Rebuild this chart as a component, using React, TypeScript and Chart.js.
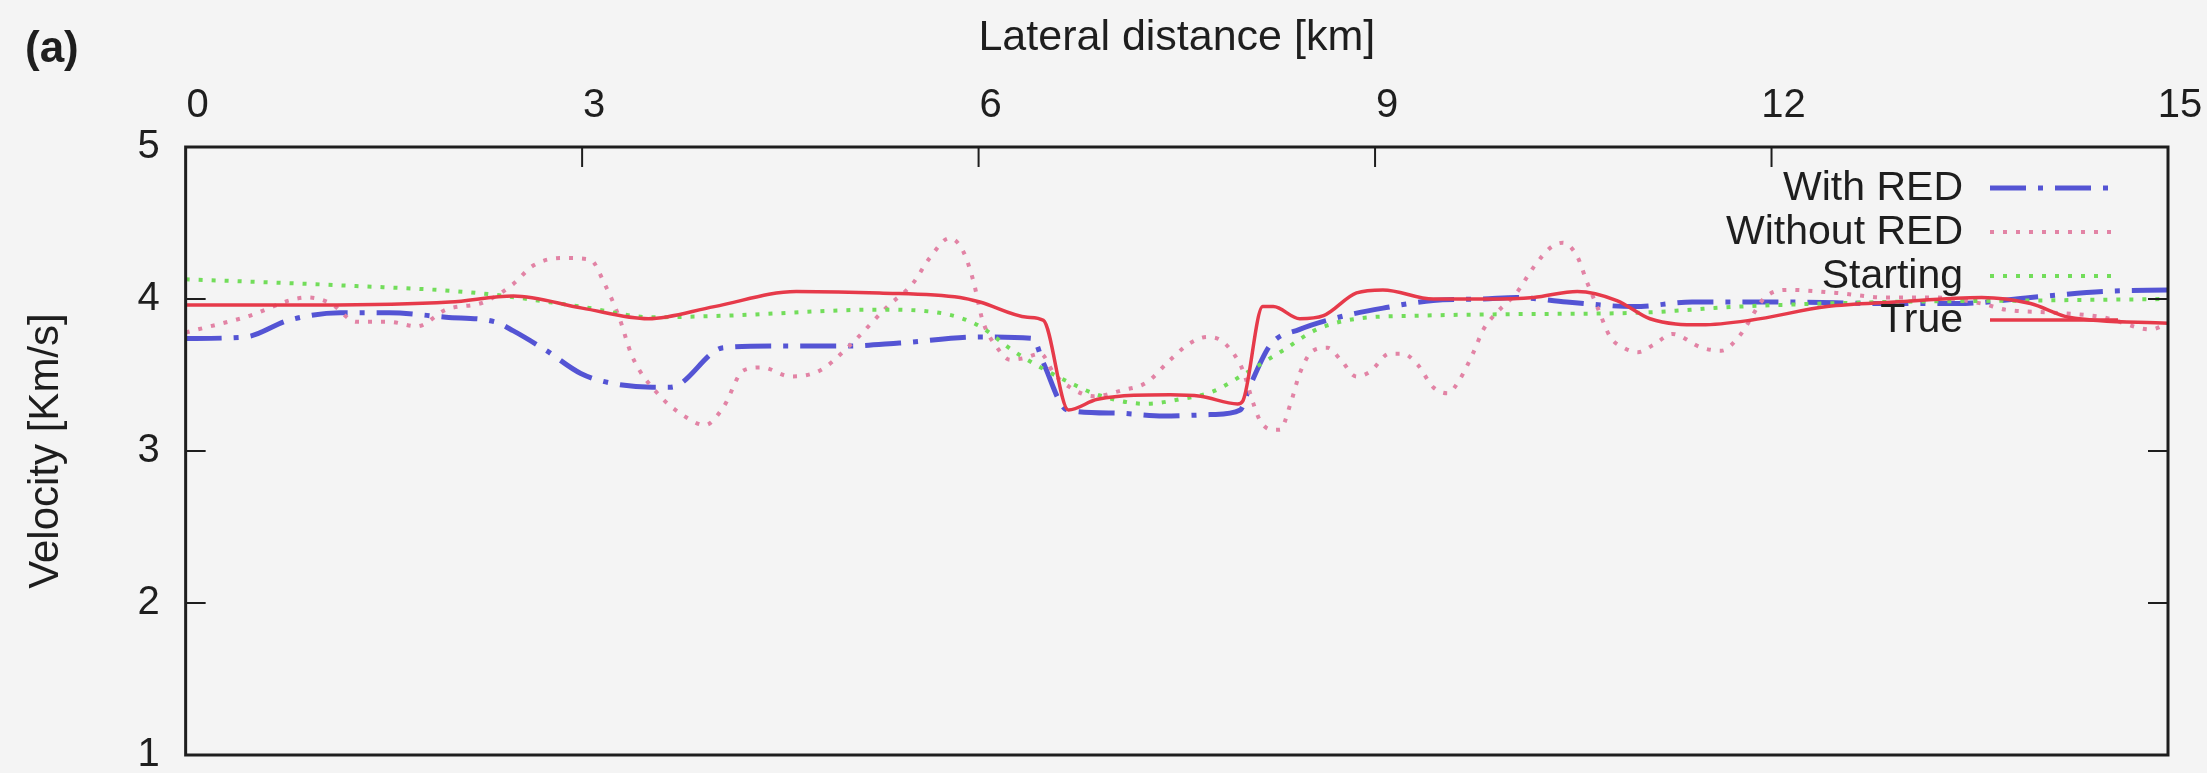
import React, { useEffect, useRef } from 'react';
import { Chart, registerables } from 'chart.js';

Chart.register(...registerables);

// ---------- data ----------
const X_TICKS = [0, 3, 6, 9, 12, 15];
const Y_TICKS = [1, 2, 3, 4, 5];
const SERIES_NAMES = ['With RED', 'Without RED', 'Starting', 'True'];
const X_TITLE = 'Lateral distance [km]';
const Y_TITLE = 'Velocity [Km/s]';
const PANEL_LABEL = '(a)';

const WITH_RED_X = [0, 0.45, 0.78, 1.17, 1.54, 1.97, 2.34, 2.48, 2.73, 2.99, 3.2, 3.53, 3.67, 4.07, 4.44, 4.98, 5.4, 6.01, 6.41, 6.49, 6.67, 7.02, 7.4, 7.77, 7.98, 8.05, 8.21, 8.43, 8.68, 9.06, 9.44, 9.82, 10.07, 10.45, 10.96, 11.4, 12.13, 12.86, 13.41, 13.96, 14.51, 15];
const WITH_RED_Y = [3.74, 3.75, 3.86, 3.91, 3.91, 3.88, 3.85, 3.79, 3.66, 3.51, 3.45, 3.42, 3.42, 3.68, 3.69, 3.69, 3.71, 3.75, 3.74, 3.58, 3.27, 3.25, 3.23, 3.24, 3.27, 3.42, 3.70, 3.80, 3.87, 3.94, 3.99, 4.0, 4.01, 3.98, 3.95, 3.98, 3.98, 3.97, 3.97, 4.01, 4.05, 4.06];

const WITHOUT_RED_X = [0, 0.45, 0.92, 1.1, 1.29, 1.54, 1.75, 1.97, 2.26, 2.48, 2.63, 2.84, 3.06, 3.17, 3.28, 3.38, 3.57, 3.79, 3.93, 4.07, 4.22, 4.36, 4.58, 4.8, 5.02, 5.31, 5.5, 5.63, 5.78, 5.88, 5.96, 6.03, 6.14, 6.24, 6.34, 6.47, 6.57, 6.69, 6.87, 7.09, 7.27, 7.45, 7.6, 7.73, 7.83, 7.93, 8.0, 8.08, 8.13, 8.22, 8.28, 8.36, 8.43, 8.53, 8.64, 8.74, 8.86, 8.96, 9.11, 9.21, 9.32, 9.44, 9.55, 9.64, 9.74, 9.82, 9.92, 10.07, 10.2, 10.33, 10.42, 10.53, 10.6, 10.69, 10.78, 10.88, 10.99, 11.11, 11.25, 11.47, 11.62, 11.76, 11.95, 12.13, 12.49, 12.86, 13.22, 13.59, 13.77, 14.14, 14.51, 14.87, 15];
const WITHOUT_RED_Y = [3.78, 3.88, 4.01, 3.97, 3.85, 3.85, 3.82, 3.93, 3.98, 4.1, 4.22, 4.27, 4.26, 4.1, 3.88, 3.62, 3.38, 3.22, 3.17, 3.29, 3.53, 3.55, 3.49, 3.53, 3.69, 3.95, 4.1, 4.27, 4.4, 4.32, 4.12, 3.86, 3.68, 3.6, 3.61, 3.64, 3.51, 3.42, 3.36, 3.4, 3.45, 3.6, 3.71, 3.75, 3.73, 3.64, 3.53, 3.31, 3.2, 3.14, 3.14, 3.31, 3.51, 3.66, 3.68, 3.6, 3.49, 3.52, 3.64, 3.64, 3.57, 3.42, 3.38, 3.47, 3.64, 3.8, 3.91, 4.04, 4.21, 4.34, 4.37, 4.28, 4.12, 3.93, 3.75, 3.68, 3.65, 3.70, 3.77, 3.68, 3.66, 3.76, 4.01, 4.06, 4.04, 4.01, 4.01, 3.97, 3.93, 3.91, 3.88, 3.80, 3.84];

const STARTING_X = [0, 1.17, 2.2, 2.99, 3.53, 4.07, 5.25, 5.76, 6.01, 6.26, 6.47, 6.69, 6.9, 7.27, 7.52, 7.77, 7.98, 8.15, 8.3, 8.56, 8.86, 9.32, 10.0, 11.0, 11.76, 12.86, 13.96, 15];
const STARTING_Y = [4.13, 4.09, 4.04, 3.95, 3.88, 3.89, 3.93, 3.9, 3.82, 3.66, 3.55, 3.45, 3.37, 3.31, 3.34, 3.39, 3.49, 3.58, 3.66, 3.8, 3.87, 3.89, 3.9, 3.91, 3.95, 3.98, 3.99, 4.0];

const TRUE_X = [0, 1.0, 2.0, 2.48, 3.0, 3.5, 4.0, 4.62, 5.25, 5.86, 6.01, 6.37, 6.49, 6.68, 6.9, 7.45, 7.68, 7.96, 8.0, 8.15, 8.23, 8.43, 8.61, 8.86, 9.06, 9.44, 9.82, 10.2, 10.53, 10.83, 11.08, 11.47, 11.84, 12.42, 12.93, 13.59, 13.96, 14.25, 15];
const TRUE_Y = [3.96, 3.96, 3.98, 4.02, 3.94, 3.87, 3.95, 4.05, 4.04, 4.01, 3.98, 3.88, 3.86, 3.27, 3.34, 3.37, 3.36, 3.31, 3.33, 3.95, 3.95, 3.87, 3.89, 4.04, 4.06, 4.0, 4.0, 4.01, 4.05, 3.99, 3.87, 3.83, 3.86, 3.95, 3.98, 4.01, 3.97, 3.88, 3.84];

const toPoints = (xs: number[], ys: number[]) => xs.map((x, i) => ({ x, y: ys[i] }));

const FONT = '"Liberation Sans", Arial, Helvetica, sans-serif';
const INK = '#1e1e1e';
const BG = '#f4f4f4';
const CLEAR = 'rgba(0,0,0,0)';

export default function App() {
  const ref = useRef<HTMLCanvasElement>(null);

  useEffect(() => {
    if (!ref.current) return;

    const decor = {
      id: 'decor',
      beforeDraw(chart: any) {
        const { ctx, width, height } = chart;
        ctx.save();
        ctx.fillStyle = BG;
        ctx.fillRect(0, 0, width, height);
        ctx.restore();
      },
      afterDraw(chart: any) {
        const { ctx, chartArea: a, scales } = chart;
        const xs = scales.x;
        const ys = scales.y;
        ctx.save();
        // frame
        ctx.strokeStyle = INK;
        ctx.lineWidth = 3;
        ctx.strokeRect(a.left, a.top, a.right - a.left, a.bottom - a.top);
        // inward ticks: top axis, and mirrored left/right axes
        ctx.lineWidth = 2;
        const tl = 20;
        X_TICKS.forEach((v) => {
          const px = xs.getPixelForValue(v);
          if (px <= a.left + 2 || px >= a.right - 2) return;
          ctx.beginPath();
          ctx.moveTo(px, a.top);
          ctx.lineTo(px, a.top + tl);
          ctx.stroke();
        });
        Y_TICKS.forEach((v) => {
          const py = ys.getPixelForValue(v);
          if (py <= a.top + 2 || py >= a.bottom - 2) return;
          ctx.beginPath();
          ctx.moveTo(a.left, py);
          ctx.lineTo(a.left + tl, py);
          ctx.moveTo(a.right, py);
          ctx.lineTo(a.right - tl, py);
          ctx.stroke();
        });
        // panel label
        ctx.fillStyle = INK;
        ctx.font = `bold 44px ${FONT}`;
        ctx.textAlign = 'left';
        ctx.textBaseline = 'alphabetic';
        ctx.fillText(PANEL_LABEL, 25, 62);
        // gnuplot-style key: right-aligned text, sample to the right
        ctx.font = `41px ${FONT}`;
        ctx.textAlign = 'right';
        ctx.textBaseline = 'middle';
        chart.data.datasets.forEach((ds: any, i: number) => {
          const y = 188 + i * 44;
          ctx.fillStyle = INK;
          ctx.fillText(ds.label, 1963, y + 1);
          ctx.beginPath();
          ctx.strokeStyle = ds.borderColor;
          ctx.lineWidth = ds.borderWidth;
          ctx.setLineDash(ds.borderDash || []);
          ctx.moveTo(1990, y);
          ctx.lineTo(2118, y);
          ctx.stroke();
          ctx.setLineDash([]);
        });
        ctx.restore();
      },
    };

    const chart = new Chart(ref.current, {
      type: 'line',
      data: {
        datasets: [
          {
            label: SERIES_NAMES[0],
            data: toPoints(WITH_RED_X, WITH_RED_Y),
            borderColor: '#5454d4',
            borderWidth: 5,
            borderDash: [36, 12, 5, 12],
            pointRadius: 0,
            cubicInterpolationMode: 'monotone',
            order: 3,
          },
          {
            label: SERIES_NAMES[1],
            data: toPoints(WITHOUT_RED_X, WITHOUT_RED_Y),
            borderColor: '#e283a5',
            borderWidth: 4,
            borderDash: [4, 9],
            pointRadius: 0,
            cubicInterpolationMode: 'monotone',
            order: 2,
          },
          {
            label: SERIES_NAMES[2],
            data: toPoints(STARTING_X, STARTING_Y),
            borderColor: '#72dd5a',
            borderWidth: 4,
            borderDash: [4, 9],
            pointRadius: 0,
            cubicInterpolationMode: 'monotone',
            order: 1,
          },
          {
            label: SERIES_NAMES[3],
            data: toPoints(TRUE_X, TRUE_Y),
            borderColor: '#e63a4a',
            borderWidth: 3.5,
            pointRadius: 0,
            cubicInterpolationMode: 'monotone',
            order: 0,
          },
        ],
      } as any,
      options: {
        responsive: false,
        animation: false,
        devicePixelRatio: 1,
        layout: { padding: { left: 0, top: 0, right: 39, bottom: 18 } },
        plugins: { legend: { display: false }, tooltip: { enabled: false } },
        scales: {
          x: {
            type: 'linear',
            position: 'top',
            min: 0,
            max: 15,
            grid: { display: true, drawOnChartArea: false, drawTicks: true, tickLength: 17, tickColor: CLEAR, color: CLEAR },
            border: { display: false },
            ticks: {
              stepSize: 3,
              padding: 0,
              labelOffset: 12,
              color: INK,
              font: { family: FONT, size: 40, lineHeight: 1.2 },
            },
            title: {
              display: true,
              text: X_TITLE,
              color: INK,
              font: { family: FONT, size: 43, lineHeight: 1.2 },
              padding: { top: 12, bottom: 18.4 },
            },
          },
          y: {
            type: 'linear',
            position: 'left',
            min: 1,
            max: 5,
            grid: { display: true, drawOnChartArea: false, drawTicks: true, tickLength: 26, tickColor: CLEAR, color: CLEAR },
            border: { display: false },
            ticks: {
              stepSize: 1,
              padding: 0,
              color: INK,
              font: { family: FONT, size: 40, lineHeight: 0.9 },
            },
            title: {
              display: true,
              text: Y_TITLE,
              color: INK,
              font: { family: FONT, size: 42, lineHeight: 1.2 },
              padding: { top: 21, bottom: 66 },
            },
          },
        },
      } as any,
      plugins: [decor],
    });

    return () => chart.destroy();
  }, []);

  return (
    <div style={{ position: 'absolute', left: 0, top: 0, width: 2207, height: 773, background: BG }}>
      <canvas ref={ref} width={2207} height={773} style={{ display: 'block', width: 2207, height: 773 }} />
    </div>
  );
}
